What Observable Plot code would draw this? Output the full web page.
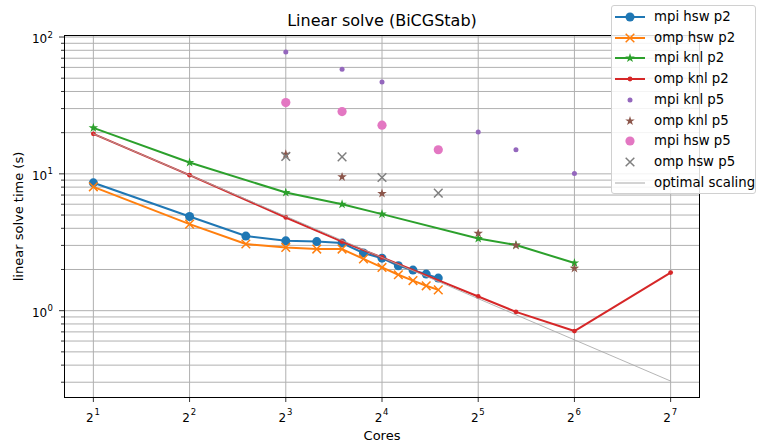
<!DOCTYPE html>
<html><head><meta charset="utf-8">
<script src="https://cdn.jsdelivr.net/npm/d3@7"></script>
<script src="https://cdn.jsdelivr.net/npm/@observablehq/plot@0.6"></script>
<style>
body{margin:0;background:#fff;font-family:"DejaVu Sans",sans-serif;}
#wrap{position:relative;width:760px;height:442px;overflow:hidden;}
#legend{position:absolute;left:611px;top:5px;width:145px;height:189px;border:1px solid #d0d0d0;border-radius:3px;background:rgba(255,255,255,0.85);box-sizing:border-box;}
.row{position:absolute;left:0;height:20px;width:145px;}
.row svg{position:absolute;left:2px;top:0;}
.row span{position:absolute;left:42px;top:1px;font-size:13.3px;line-height:18px;color:#000;white-space:nowrap;}
</style></head>
<body><div id="wrap"></div>
<script>
// ---- data ----
const hswCores   = [2, 4, 6, 8, 10, 12, 14, 16, 18, 20, 22, 24];
const mpiHswP2   = [8.6, 4.88, 3.51, 3.24, 3.2, 3.12, 2.64, 2.42, 2.13, 1.98, 1.85, 1.73];
const ompHswP2   = [8.04, 4.29, 3.07, 2.9, 2.82, 2.82, 2.39, 2.07, 1.83, 1.66, 1.52, 1.42];
const knlCores   = [2, 4, 8, 12, 16, 32, 42, 64];
const mpiKnlP2   = [21.7, 12.1, 7.3, 6.0, 5.08, 3.37, 3.02, 2.23];
const ompKnlCores= [2, 4, 8, 12, 16, 32, 42, 64, 128];
const ompKnlP2   = [19.6, 9.78, 4.8, 3.2, 2.45, 1.27, 0.98, 0.71, 1.9];
const knlP5Cores = [8, 12, 16, 32, 42, 64];
const mpiKnlP5   = [77.8, 58.1, 46.9, 20.2, 15.0, 10.05];
const ompKnlP5   = [13.9, 9.5, 7.18, 3.67, 3.0, 2.04];
const hswP5Cores = [8, 12, 16, 24];
const mpiHswP5   = [33.2, 28.5, 22.7, 15.0];
const ompHswP5   = [13.4, 13.3, 9.4, 7.23];
const optimalCores = [2, 128];
const optimalTime  = [19.6, 0.306];

const xTicks = [2, 4, 8, 16, 32, 64, 128];
const yMajor = [1, 10, 100];
const yMinor = [0.3,0.4,0.5,0.6,0.7,0.8,0.9,2,3,4,5,6,7,8,9,20,30,40,50,60,70,80,90];

const title = "Linear solve (BiCGStab)";
const xLabel = "Cores";
const yLabel = "linear solve time (s)";

// ---- build tables ----
const rows = (xs, ys) => xs.map((c, i) => ({cores: c, time: ys[i]}));

const S = [
  {label:"mpi hsw p2", data: rows(hswCores, mpiHswP2), color:"#1f77b4", line:true, symbol:"circle", r:4.5, fill:true},
  {label:"omp hsw p2", data: rows(hswCores, ompHswP2), color:"#ff7f0e", line:true, symbol:"times", r:4.0, fill:false},
  {label:"mpi knl p2", data: rows(knlCores, mpiKnlP2), color:"#2ca02c", line:true, symbol:"star", r:3.0, fill:true},
  {label:"omp knl p2", data: rows(ompKnlCores, ompKnlP2), color:"#d62728", line:true, symbol:"circle", r:2.4, fill:true},
  {label:"mpi knl p5", data: rows(knlP5Cores, mpiKnlP5), color:"#9467bd", line:false, symbol:"circle", r:2.5, fill:true},
  {label:"omp knl p5", data: rows(knlP5Cores, ompKnlP5), color:"#8c564b", line:false, symbol:"star", r:3.0, fill:true},
  {label:"mpi hsw p5", data: rows(hswP5Cores, mpiHswP5), color:"#e377c2", line:false, symbol:"circle", r:4.6, fill:true},
  {label:"omp hsw p5", data: rows(hswP5Cores, ompHswP5), color:"#7f7f7f", line:false, symbol:"times", r:4.0, fill:false},
];
const optimal = {label:"optimal scaling", data: rows(optimalCores, optimalTime), color:"#a8a8a8"};

const marks = [
  Plot.gridX({ticks: xTicks, stroke:"#b0b0b0", strokeOpacity:1, strokeWidth:1}),
  Plot.gridY({ticks: [...yMajor, ...yMinor], stroke:"#b0b0b0", strokeOpacity:1, strokeWidth:1}),
];
for (const s of S) {
  if (s.line) marks.push(Plot.line(s.data, {x:"cores", y:"time", stroke:s.color, strokeWidth:2}));
  marks.push(Plot.dot(s.data, {x:"cores", y:"time", symbol: s.symbol, r: s.r,
    fill: s.fill ? s.color : "none", stroke: s.fill ? "none" : s.color, strokeWidth: s.fill ? 0 : 1.5}));
}
marks.push(Plot.line(optimal.data, {x:"cores", y:"time", stroke:optimal.color, strokeWidth:1, strokeOpacity:0.85}));
marks.push(
  // tick marks
  Plot.axisX({ticks: xTicks, tickFormat: () => "", tickSize:5, stroke:"#000", strokeWidth:0.8, label:null}),
  Plot.axisY({ticks: yMajor, tickFormat: () => "", tickSize:5, stroke:"#000", strokeWidth:0.8, label:null}),
  Plot.axisY({ticks: yMinor, tickFormat: () => "", tickSize:3, stroke:"#000", strokeWidth:0.8, label:null}),
  // x tick labels: base "2" plus exponent
  Plot.text(xTicks, {x: d => d, frameAnchor:"bottom", text: () => "2", textAnchor:"middle", dx:-3.5, dy:20.9, lineAnchor:"middle", fontSize:12}),
  Plot.text(xTicks, {x: d => d, frameAnchor:"bottom", text: d => String(Math.round(Math.log2(d))), textAnchor:"middle", dx:3.8, dy:14.5, lineAnchor:"middle", fontSize:8.5}),
  // y tick labels: base "10" plus exponent
  Plot.text(yMajor, {y: d => d, frameAnchor:"left", text: () => "10", textAnchor:"end", dx:-17.3, dy:2.6, lineAnchor:"middle", fontSize:12}),
  Plot.text(yMajor, {y: d => d, frameAnchor:"left", text: d => String(Math.round(Math.log10(d))), textAnchor:"start", dx:-17, dy:-2.2, lineAnchor:"middle", fontSize:8.5}),
  Plot.frame({stroke:"#000", strokeWidth:1}),
  Plot.text([title], {frameAnchor:"top", textAnchor:"middle", dy:-15, lineAnchor:"middle", fontSize:16}),
  Plot.text([xLabel], {frameAnchor:"bottom", textAnchor:"middle", dy:38, lineAnchor:"middle", fontSize:13}),
  Plot.text([yLabel], {frameAnchor:"left", textAnchor:"middle", dx:-46, rotate:-90, lineAnchor:"middle", fontSize:13})
);

const chart = Plot.plot({
  width: 760, height: 442,
  marginLeft: 64, marginRight: 61, marginTop: 35, marginBottom: 45,
  style: {fontFamily: "DejaVu Sans", background: "white", color: "black"},
  x: {type: "log", base: 2, domain: [2 ** 0.7, 2 ** 7.3]},
  y: {type: "log", domain: [0.232, 102.6]},
  marks
});
const wrap = document.getElementById("wrap");
wrap.appendChild(chart);

// ---- legend ----
const legend = document.createElement("div");
legend.id = "legend";
const symMap = {circle: d3.symbolCircle, times: d3.symbolTimes, star: d3.symbolStar};
const items = [...S, {...optimal, line:true, symbol:null, thin:true}];
items.forEach((s, i) => {
  const row = document.createElement("div");
  row.className = "row";
  row.style.top = (1 + i * 20.7) + "px";
  const svg = d3.create("svg").attr("width", 34).attr("height", 20);
  if (s.line) svg.append("line").attr("x1", 1).attr("x2", 31).attr("y1", 10).attr("y2", 10)
    .attr("stroke", s.color).attr("stroke-width", s.thin ? 1 : 2);
  if (s.symbol) {
    svg.append("path").attr("transform", "translate(16,10)")
      .attr("d", d3.symbol(symMap[s.symbol], s.r * s.r * Math.PI)())
      .attr("fill", s.fill ? s.color : "none")
      .attr("stroke", s.fill ? "none" : s.color).attr("stroke-width", 1.5);
  }
  row.appendChild(svg.node());
  const t = document.createElement("span");
  t.textContent = s.label;
  row.appendChild(t);
  legend.appendChild(row);
});
wrap.appendChild(legend);
</script>
</body></html>
